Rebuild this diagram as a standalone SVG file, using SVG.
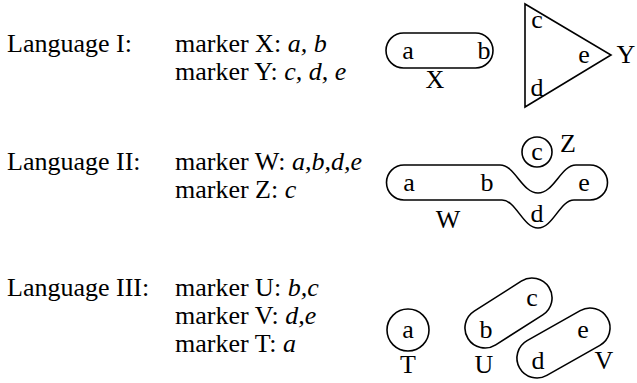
<svg xmlns="http://www.w3.org/2000/svg" width="637" height="383" viewBox="0 0 637 383">
<style>
text{font-family:"Liberation Serif","Times New Roman",serif;font-size:26px;fill:#000}
.i{font-style:italic}
.s{fill:none;stroke:#000;stroke-width:1.6}
.m{text-anchor:middle}
</style>
<rect width="637" height="383" fill="#fff"/>
<g id="legend">
<text x="7" y="52">Language I:</text>
<text x="175" y="52">marker X: <tspan class="i">a, b</tspan></text>
<text x="175" y="80">marker Y: <tspan class="i">c, d, e</tspan></text>
<text x="7" y="170">Language II:</text>
<text x="175" y="170">marker W: <tspan class="i">a,b,d,e</tspan></text>
<text x="175" y="198">marker Z: <tspan class="i">c</tspan></text>
<text x="7" y="296">Language III:</text>
<text x="175" y="296">marker U: <tspan class="i">b,c</tspan></text>
<text x="175" y="324">marker V: <tspan class="i">d,e</tspan></text>
<text x="175" y="352">marker T: <tspan class="i">a</tspan></text>
</g>
<g id="X">
<rect class="s" x="386" y="33" width="107" height="35" rx="17.5"/>
<text class="m" x="408" y="59">a</text>
<text class="m" x="484" y="59">b</text>
<text class="m" x="435" y="88">X</text>
</g>
<g id="Y">
<polygon class="s" points="525,4 525,107 611,55"/>
<text class="m" x="537" y="28">c</text>
<text class="m" x="537" y="96">d</text>
<text class="m" x="584" y="63">e</text>
<text class="m" x="626" y="63">Y</text>
</g>
<g id="Z">
<circle class="s" cx="537" cy="152" r="15"/>
<text class="m" x="537" y="160">c</text>
<text class="m" x="568" y="152">Z</text>
</g>
<g id="W">
<path class="s" d="M404,165 H500 C515,165 522,193 538,193 C554,193 561,165 576,165 H590 A17.5,17.5 0 0 1 590,200 H574 C560,200 553,228 538,228 C523,228 516,200 502,200 H404 A17.5,17.5 0 0 1 404,165 Z"/>
<text class="m" x="409" y="191">a</text>
<text class="m" x="487" y="191">b</text>
<text class="m" x="584" y="191">e</text>
<text class="m" x="537" y="222">d</text>
<text class="m" x="448" y="228">W</text>
</g>
<g id="T">
<circle class="s" cx="408" cy="330" r="21"/>
<text class="m" x="408" y="338">a</text>
<text class="m" x="408" y="373">T</text>
</g>
<g id="U">
<rect class="s" x="460.6" y="293" width="95.8" height="40" rx="20" transform="rotate(-32.5 508.5 313)"/>
<text class="m" x="486" y="338">b</text>
<text class="m" x="532" y="306">c</text>
<text class="m" x="484" y="373">U</text>
</g>
<g id="V">
<rect class="s" x="513" y="323" width="101" height="40" rx="20" transform="rotate(-29.5 563.5 343)"/>
<text class="m" x="538" y="369">d</text>
<text class="m" x="583" y="338">e</text>
<text class="m" x="604" y="369">V</text>
</g>
</svg>
